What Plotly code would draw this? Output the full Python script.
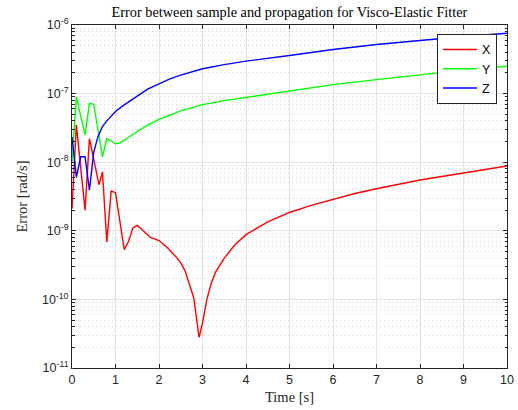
import plotly.graph_objects as go

# ---- data ----
t_x = [0, 0.1, 0.3, 0.4, 0.5, 0.62, 0.7, 0.8, 0.9, 1.0, 1.2, 1.3, 1.4, 1.5, 1.6, 1.7, 1.8,
       2.0, 2.2, 2.4, 2.5, 2.6, 2.7, 2.8, 2.92, 3.0, 3.1, 3.2, 3.3, 3.5, 3.75, 4.0, 4.5,
       5, 5.5, 6, 6.5, 7, 7.5, 8, 8.5, 9, 9.5, 10]
err_x = [2.1e-9, 3.5e-8, 2.0e-9, 2.2e-8, 1.1e-8, 4.7e-9, 7.2e-9, 6.9e-10, 3.8e-9, 3.6e-9,
         5.3e-10, 7.0e-10, 1.1e-9, 1.2e-9, 1.05e-9, 9.0e-10, 8.0e-10,
         7.2e-10, 5.6e-10, 4.1e-10, 3.4e-10, 2.6e-10, 1.7e-10, 1.05e-10, 2.8e-11, 4.5e-11,
         1.0e-10, 1.7e-10, 2.5e-10, 4.0e-10, 6.3e-10, 8.8e-10, 1.35e-9,
         1.85e-9, 2.35e-9, 2.9e-9, 3.5e-9, 4.1e-9, 4.8e-9, 5.5e-9, 6.2e-9, 7.0e-9, 7.9e-9,
         8.8e-9]

t_y = [0, 0.1, 0.3, 0.4, 0.5, 0.7, 0.8, 0.9, 1.0, 1.1, 1.2, 1.5, 1.75, 2.0, 2.5, 3, 3.5,
       4, 5, 6, 7, 8, 9, 10]
err_y = [1.0e-8, 8.9e-8, 2.5e-8, 7.2e-8, 7.0e-8, 1.2e-8, 2.2e-8, 2.0e-8, 1.85e-8, 1.9e-8,
         2.1e-8, 2.8e-8, 3.5e-8, 4.2e-8, 5.6e-8, 6.9e-8, 7.9e-8, 8.8e-8, 1.08e-7, 1.35e-7,
         1.6e-7, 1.9e-7, 2.2e-7, 2.5e-7]

t_z = [0, 0.1, 0.2, 0.3, 0.4, 0.5, 0.6, 0.7, 0.8, 0.9, 1.0, 1.15, 1.3, 1.5, 1.75, 2.0,
       2.25, 2.5, 2.75, 3, 3.5, 4, 5, 6, 7, 8, 9, 10]
err_z = [2.35e-8, 6.0e-9, 1.2e-8, 1.2e-8, 3.9e-9, 1.4e-8, 2.4e-8, 3.3e-8, 4.0e-8, 4.7e-8,
         5.5e-8, 6.5e-8, 7.6e-8, 9.2e-8, 1.17e-7, 1.4e-7, 1.64e-7, 1.86e-7, 2.08e-7,
         2.3e-7, 2.64e-7, 2.97e-7, 3.6e-7, 4.4e-7, 5.2e-7, 6.0e-7, 6.8e-7, 7.6e-7]

x_ticks = list(range(0, 11))
y_tickvals = [1e-11, 1e-10, 1e-9, 1e-8, 1e-7, 1e-6]
y_ticktext = ["10<sup>-11</sup>", "10<sup>-10</sup>", "10<sup>-9</sup>",
              "10<sup>-8</sup>", "10<sup>-7</sup>", "10<sup>-6</sup>"]

title = "Error between sample and propagation for Visco-Elastic Fitter"
xlabel = "Time [s]"
ylabel = "Error [rad/s]"

fig = go.Figure()
fig.add_trace(go.Scatter(x=t_x, y=err_x, mode="lines", name="X",
                         line=dict(color="#ff0000", width=1.4)))
fig.add_trace(go.Scatter(x=t_y, y=err_y, mode="lines", name="Y",
                         line=dict(color="#00ff00", width=1.4)))
fig.add_trace(go.Scatter(x=t_z, y=err_z, mode="lines", name="Z",
                         line=dict(color="#0000ff", width=1.4)))

axcol = "#262626"
serif = "Liberation Serif, Times New Roman, serif"
sans = "Liberation Sans, Arial, Helvetica, sans-serif"

fig.update_layout(
    width=518, height=410,
    margin=dict(l=72, r=11, t=25, b=42, autoexpand=False),
    paper_bgcolor="white", plot_bgcolor="white",
    showlegend=True,
    title=dict(text=title, x=(72 + 507) / 2 / 518, xanchor="center",
               y=1 - 12 / 410, yanchor="middle",
               font=dict(family=serif, size=14.3, color="black")),
    legend=dict(x=0.977, y=0.974, xanchor="right", yanchor="top",
                bgcolor="white", bordercolor=axcol, borderwidth=1,
                font=dict(family=sans, size=12.5, color="black"),
                tracegroupgap=0, itemwidth=34),
    xaxis=dict(range=[0, 10], tickvals=x_ticks, ticks="inside", ticklen=4,
               tickcolor=axcol, showline=True, linecolor=axcol, linewidth=1,
               mirror="ticks", showgrid=True, gridcolor="#e3e3e3", gridwidth=1,
               zeroline=False, automargin=False,
               tickfont=dict(family=sans, size=12.5, color=axcol),
               title=dict(text=xlabel, font=dict(family=serif, size=14.5, color=axcol),
                          standoff=5)),
    yaxis=dict(type="log", range=[-11, -6], tickvals=y_tickvals, ticktext=y_ticktext,
               ticks="inside", ticklen=4, tickcolor=axcol, showline=True,
               linecolor=axcol, linewidth=1, mirror="ticks", showgrid=True,
               gridcolor="#e3e3e3", gridwidth=1, zeroline=False, automargin=False,
               tickfont=dict(family=sans, size=12.5, color=axcol),
               minor=dict(dtick="D1", ticks="inside", ticklen=2.5, tickcolor=axcol,
                          showgrid=True, gridcolor="#d6d6d6", griddash="1px,3px",
                          gridwidth=1),
               title=dict(text=ylabel, font=dict(family=serif, size=14.5, color=axcol),
                          standoff=10)),
)

fig.write_html("out.html")
